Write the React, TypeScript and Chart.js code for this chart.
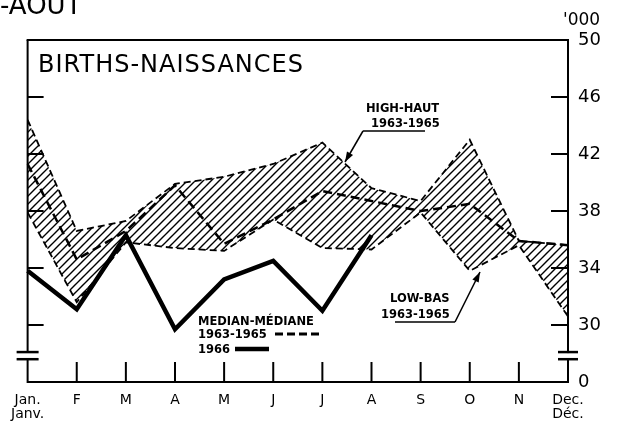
import React, { useEffect, useRef } from "react";
import { Chart, registerables } from "chart.js";

Chart.register(...registerables);

// ---- data (thousands of births) ----
const months: (string | string[])[] = [["Jan.", "Janv."], "F", "M", "A", "M", "J", "J", "A", "S", "O", "N", ["Dec.", "Déc."]];
const high6365 = [44.4, 36.6, 37.3, 39.9, 40.4, 41.3, 42.8, 39.6, 38.7, 43.0, 35.9, 35.6];
const low6365 = [37.9, 31.6, 35.8, 35.4, 35.2, 37.4, 35.4, 35.3, 37.9, 33.8, 35.6, 30.6];
const median6365 = [41.3, 34.6, 36.6, 39.8, 35.7, 37.4, 39.4, 38.7, 38.0, 38.5, 35.9, 35.6];
const births1966 = [33.8, 31.1, 36.3, 29.7, 33.2, 34.5, 31.0, 36.3, null, null, null, null];
const yMin = 26; // shown as "0" (broken axis)
const yMax = 50;
const yStep = 4;
const innerTicks = [30, 34, 38, 42, 46];

function makeHatch(): CanvasPattern | string {
  const s = 8;
  const c = document.createElement("canvas");
  c.width = s;
  c.height = s;
  const g = c.getContext("2d");
  if (!g) return "rgba(0,0,0,0.3)";
  g.strokeStyle = "#000";
  g.lineWidth = 1.4;
  g.beginPath();
  g.moveTo(0, s);
  g.lineTo(s, 0);
  g.moveTo(-1, 1);
  g.lineTo(1, -1);
  g.moveTo(s - 1, s + 1);
  g.lineTo(s + 1, s - 1);
  g.stroke();
  const p = g.createPattern(c, "repeat");
  return p || "rgba(0,0,0,0.3)";
}

function line(ctx: CanvasRenderingContext2D, x1: number, y1: number, x2: number, y2: number) {
  ctx.beginPath();
  ctx.moveTo(x1, y1);
  ctx.lineTo(x2, y2);
  ctx.stroke();
}

function arrow(ctx: CanvasRenderingContext2D, x1: number, y1: number, x2: number, y2: number) {
  line(ctx, x1, y1, x2, y2);
  const ang = Math.atan2(y2 - y1, x2 - x1);
  const L = 10, W = 3.5;
  const bx = x2 - L * Math.cos(ang), by = y2 - L * Math.sin(ang);
  ctx.beginPath();
  ctx.moveTo(x2, y2);
  ctx.lineTo(bx + W * Math.sin(ang), by - W * Math.cos(ang));
  ctx.lineTo(bx - W * Math.sin(ang), by + W * Math.cos(ang));
  ctx.closePath();
  ctx.fill();
}

const decorPlugin = {
  id: "decor",
  afterDraw(chart: any) {
    const { ctx, chartArea: a, scales } = chart;
    const x = scales.x, y = scales.y;
    ctx.save();
    ctx.strokeStyle = "#000";
    ctx.fillStyle = "#000";
    ctx.lineCap = "butt";
    // frame top + left axis
    ctx.lineWidth = 2;
    line(ctx, a.left - 1, a.top, a.right, a.top);
    const b1 = y.getPixelForValue(28.1);
    const b2 = y.getPixelForValue(27.6);
    line(ctx, a.left, a.top, a.left, b1);
    line(ctx, a.left, b2, a.left, a.bottom + 1);
    // gap in right axis
    ctx.fillStyle = "#fff";
    ctx.fillRect(a.right - 3, b1 + 1, 6, b2 - b1 - 2);
    ctx.fillStyle = "#000";
    // break marks
    ctx.lineWidth = 2.5;
    line(ctx, a.left - 11, b1, a.left + 11, b1);
    line(ctx, a.left - 11, b2, a.left + 11, b2);
    line(ctx, a.right - 10, b1, a.right + 10, b1);
    line(ctx, a.right - 10, b2, a.right + 10, b2);
    // inward ticks on both vertical axes
    ctx.lineWidth = 2;
    for (const v of innerTicks) {
      const py = y.getPixelForValue(v);
      line(ctx, a.left, py, a.left + 16, py);
      line(ctx, a.right - 17, py, a.right, py);
    }
    // month ticks
    for (let i = 1; i < months.length - 1; i++) {
      const px = x.getPixelForValue(i);
      line(ctx, px, a.bottom, px, a.bottom - 20);
    }
    // texts
    ctx.textBaseline = "alphabetic";
    ctx.textAlign = "left";
    ctx.font = "26px 'DejaVu Sans'";
    ctx.fillText("-AOUT", 0, 14);
    ctx.font = "17px 'DejaVu Sans'";
    ctx.fillText("'000", 563, 25);
    ctx.font = "24px 'DejaVu Sans'";
    (ctx as any).letterSpacing = "1px";
    ctx.fillText("BIRTHS-NAISSANCES", 38, 72);
    (ctx as any).letterSpacing = "0px";

    ctx.font = "bold 11.5px 'DejaVu Sans'";
    // HIGH label
    ctx.fillText("HIGH-HAUT", 366, 112);
    ctx.fillText("1963-1965", 371, 127);
    ctx.lineWidth = 1.5;
    line(ctx, 363, 131, 425, 131);
    arrow(ctx, 363, 131, 345, 162);
    // LOW label
    ctx.fillText("LOW-BAS", 390, 302);
    ctx.fillText("1963-1965", 381, 318);
    line(ctx, 395, 322, 455, 322);
    arrow(ctx, 455, 322, 480, 272);
    // legend
    ctx.fillText("MEDIAN-MÉDIANE", 198, 325);
    ctx.fillText("1963-1965", 198, 338);
    ctx.fillText("1966", 198, 353);
    ctx.lineWidth = 3;
    ctx.setLineDash([8, 4]);
    line(ctx, 275, 334, 323, 334);
    ctx.setLineDash([]);
    ctx.lineWidth = 4.5;
    line(ctx, 235, 349, 269, 349);
    ctx.restore();
  },
};

export default function App() {
  const ref = useRef<HTMLCanvasElement | null>(null);
  useEffect(() => {
    if (!ref.current) return;
    const hatch = makeHatch();
    const chart = new Chart(ref.current, {
      type: "line",
      data: {
        labels: months as any,
        datasets: [
          {
            label: "High-Haut 1963-1965",
            data: high6365,
            borderColor: "#000",
            borderWidth: 1.8,
            borderDash: [7, 4],
            pointRadius: 0,
            fill: false,
            tension: 0,
          },
          {
            label: "Low-Bas 1963-1965",
            data: low6365,
            borderColor: "#000",
            borderWidth: 1.8,
            borderDash: [7, 4],
            pointRadius: 0,
            backgroundColor: hatch as any,
            fill: "-1",
            tension: 0,
          },
          {
            label: "Median-Médiane 1963-1965",
            data: median6365,
            borderColor: "#000",
            borderWidth: 2.5,
            borderDash: [9, 5],
            pointRadius: 0,
            fill: false,
            tension: 0,
          },
          {
            label: "1966",
            data: births1966,
            borderColor: "#000",
            borderWidth: 4.5,
            borderJoinStyle: "miter",
            pointRadius: 0,
            fill: false,
            spanGaps: false,
            tension: 0,
          },
        ],
      },
      options: {
        responsive: false,
        animation: false,
        layout: { padding: { left: 24, top: 40, right: 0, bottom: 0 } },
        plugins: { legend: { display: false }, tooltip: { enabled: false } },
        scales: {
          x: {
            type: "category",
            offset: false,
            grid: { display: false, drawTicks: false },
            border: { display: true, color: "#000", width: 2 },
            ticks: {
              color: "#000",
              padding: 11,
              autoSkip: false,
              maxRotation: 0,
              font: { family: "'DejaVu Sans'", size: 14, lineHeight: 1.0 },
            },
            afterFit: (s: any) => { s.height = 40; },
          },
          y: {
            position: "right",
            min: yMin,
            max: yMax,
            grid: { display: false, drawTicks: false },
            border: { display: true, color: "#000", width: 2 },
            ticks: {
              stepSize: yStep,
              color: "#000",
              padding: 10,
              font: { family: "'DejaVu Sans'", size: 18 },
              callback: (v: any) => (Number(v) === yMin ? "0" : String(v)),
            },
            afterFit: (s: any) => { s.width = 50; },
          },
        },
      },
      plugins: [decorPlugin],
    });
    return () => chart.destroy();
  }, []);
  return (
    <div style={{ position: "absolute", left: 0, top: 0, width: 618, height: 422, background: "#fff" }}>
      <canvas ref={ref} width={618} height={422} />
    </div>
  );
}
